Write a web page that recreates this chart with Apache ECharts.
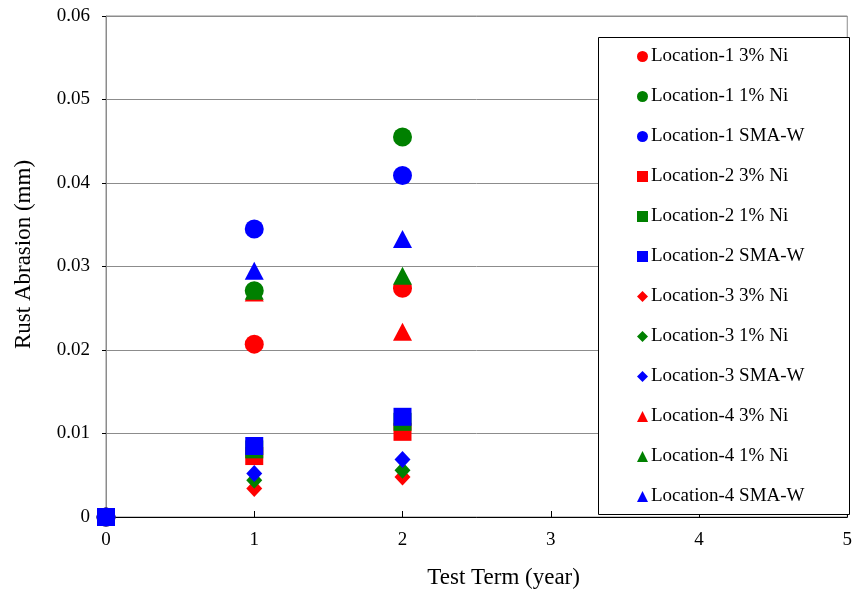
<!DOCTYPE html>
<html>
<head>
<meta charset="utf-8">
<script src="https://cdn.jsdelivr.net/npm/echarts@6/dist/echarts.min.js"></script>
<style>
  html, body { margin: 0; padding: 0; background: #fff; }
  #chart { width: 855px; height: 594px; }
</style>
</head>
<body>
<div id="chart"></div>
<script>
// Test years on the x axis
const years = [0, 1, 2];

// Rust abrasion (mm) per series, one value per test year (null = not measured)
const loc1_3Ni = [0, 0.0207, 0.0274];
const loc1_1Ni = [0, 0.0271, 0.0455];
const loc1_SMA = [0, 0.0345, 0.0409];
const loc2_3Ni = [0, 0.0073, 0.0102];
const loc2_1Ni = [0, 0.0081, 0.0114];
const loc2_SMA = [0, 0.0085, 0.0120];
const loc3_3Ni = [null, 0.0034, 0.0048];
const loc3_1Ni = [null, 0.0044, 0.0056];
const loc3_SMA = [null, 0.0052, 0.0069];
const loc4_3Ni = [null, 0.0269, 0.0222];
const loc4_1Ni = [null, 0.0271, 0.0289];
const loc4_SMA = [null, 0.0295, 0.0333];

const seriesNames = [
  'Location-1 3% Ni', 'Location-1 1% Ni', 'Location-1 SMA-W',
  'Location-2 3% Ni', 'Location-2 1% Ni', 'Location-2 SMA-W',
  'Location-3 3% Ni', 'Location-3 1% Ni', 'Location-3 SMA-W',
  'Location-4 3% Ni', 'Location-4 1% Ni', 'Location-4 SMA-W'
];
const seriesValues = [
  loc1_3Ni, loc1_1Ni, loc1_SMA,
  loc2_3Ni, loc2_1Ni, loc2_SMA,
  loc3_3Ni, loc3_1Ni, loc3_SMA,
  loc4_3Ni, loc4_1Ni, loc4_SMA
];

const yTicks = [0, 0.01, 0.02, 0.03, 0.04, 0.05, 0.06];

const colors = ['#ff0000', '#008000', '#0000ff'];
const symbols = ['circle', 'rect', 'diamond', 'triangle'];
const symbolSizes = [19, 18, [16, 17], [19, 18]];

const FONT = 'Liberation Serif';

const series = seriesNames.map((name, i) => {
  const loc = Math.floor(i / 3);
  const data = [];
  years.forEach((yr, k) => {
    const v = seriesValues[i][k];
    if (v !== null) data.push([yr, v]);
  });
  return {
    name: name,
    type: 'scatter',
    symbol: symbols[loc],
    symbolSize: symbolSizes[loc],
    itemStyle: { color: colors[i % 3], opacity: 1 },
    data: data,
    z: 2 + i
  };
});

const chart = echarts.init(document.getElementById('chart'), null, { renderer: 'canvas' });

chart.setOption({
  backgroundColor: '#ffffff',
  animation: false,
  textStyle: { fontFamily: FONT, color: '#000' },
  grid: {
    left: 106, right: 3, top: 16, bottom: 77,
    show: true, borderColor: '#8c8c8c', borderWidth: 1, backgroundColor: '#fff'
  },
  xAxis: {
    type: 'value', min: 0, max: 5, interval: 1,
    name: 'Test Term (year)', nameLocation: 'middle', nameGap: 49,
    nameTextStyle: { fontFamily: FONT, fontSize: 23, color: '#000', padding: [0, 0, 0, 54] },
    axisLine: { show: true, onZero: false, lineStyle: { color: '#000', width: 1 } },
    axisTick: { show: true, inside: true, length: 6, lineStyle: { color: '#000' } },
    axisLabel: { fontFamily: FONT, fontSize: 19, color: '#000', margin: 14 },
    splitLine: { show: false }
  },
  yAxis: {
    type: 'value', min: 0, max: 0.06, interval: 0.01,
    name: 'Rust Abrasion (mm)', nameLocation: 'middle', nameGap: 71,
    nameTextStyle: { fontFamily: FONT, fontSize: 23, color: '#000', padding: [0, 0, 0, 24] },
    axisLine: { show: true, onZero: false, lineStyle: { color: '#8c8c8c', width: 1 } },
    axisTick: { show: true, inside: false, length: 4, lineStyle: { color: '#000' } },
    axisLabel: {
      fontFamily: FONT, fontSize: 19, color: '#000', margin: 16,
      formatter: v => {
        const t = yTicks.find(tk => Math.abs(tk - v) < 1e-9);
        return String(t !== undefined ? parseFloat(t.toFixed(2)) : v);
      }
    },
    splitLine: { show: true, lineStyle: { color: '#8c8c8c', width: 1 } }
  },
  legend: {
    orient: 'vertical',
    left: 637, top: 47,
    itemGap: 21,
    itemWidth: 11, itemHeight: 11,
    padding: 0,
    z: 20,
    textStyle: { fontFamily: FONT, fontSize: 19, color: '#000', padding: [0, 0, 0, -2], lineHeight: 19 },
    data: seriesNames.map((n, i) => ({ name: n, icon: symbols[Math.floor(i / 3)] }))
  },
  graphic: [{
    type: 'rect',
    shape: { x: 598.5, y: 37.5, width: 251, height: 477 },
    style: { fill: '#fff', stroke: '#000', lineWidth: 1 },
    z: 3
  }],
  series: series
});
</script>
</body>
</html>
